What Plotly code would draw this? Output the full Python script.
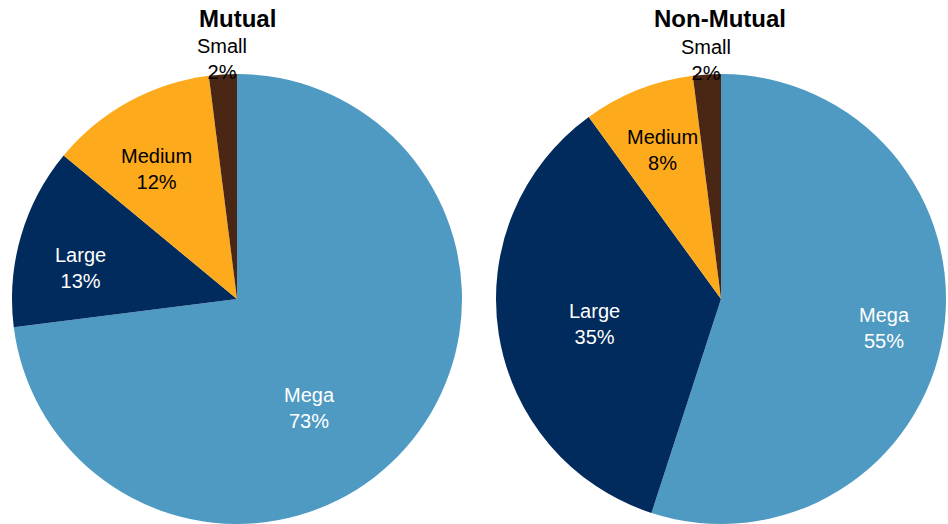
import math
import plotly.graph_objects as go

# Share of assets by size class
sizes = ["Mega", "Large", "Medium", "Small"]
mutual_pct = [73, 13, 12, 2]
non_mutual_pct = [55, 35, 8, 2]
titles = ["Mutual", "Non-Mutual"]

colors = ["#4F9AC2", "#002B5C", "#FDAA1C", "#4A2614"]
text_colors = ["white", "white", "black", "black"]
FONT = "Liberation Sans, Arial, sans-serif"

# label placement: distance from centre as a fraction of the radius,
# and an angular nudge (degrees) away from the slice bisector
label_r = [[0.585, 0.71, 0.685, 1.075], [0.74, 0.575, 0.715, 1.07]]
label_nudge = [[15, -5, -3, 0], [1, -2, 0, 0]]

W, H = 948, 524
SIDE = 450                      # pie domain side in px
centres_x = [237, 721]
cy = H - SIDE / 2               # pie centre, px from top
R = SIDE / 2 - 1

fig = go.Figure()

for k, (vals, cx) in enumerate(zip([mutual_pct, non_mutual_pct], centres_x)):
    fig.add_trace(go.Pie(
        labels=sizes,
        values=vals,
        domain=dict(x=[(cx - SIDE / 2) / W, (cx + SIDE / 2) / W],
                    y=[0, SIDE / H]),
        sort=False,
        direction="clockwise",
        rotation=0,
        marker=dict(colors=colors, line=dict(width=0)),
        textinfo="none",
        hoverinfo="label+percent",
        showlegend=False,
    ))

    # slice labels, placed along each slice's angular span
    total = sum(vals)
    start = 0.0
    for i, (lab, v) in enumerate(zip(sizes, vals)):
        span = 360.0 * v / total
        mid = math.radians(start + span / 2 + label_nudge[k][i])
        start += span
        d = label_r[k][i] * R
        px = cx + d * math.sin(mid)
        py = cy - d * math.cos(mid)
        fig.add_annotation(
            text=f"{lab}<br>{round(100 * v / total)}%",
            x=px / W, y=1 - py / H, xref="paper", yref="paper",
            showarrow=False, xanchor="center", yanchor="middle",
            align="center",
            font=dict(family=FONT, size=20, color=text_colors[i]),
        )

for title, cx in zip(titles, [237, 720]):
    fig.add_annotation(
        text=f"<b>{title}</b>", x=cx / W, y=1 - 18 / H,
        xref="paper", yref="paper", showarrow=False,
        xanchor="center", yanchor="middle",
        font=dict(family=FONT, size=24, color="black"),
    )

fig.update_layout(
    width=W, height=H,
    margin=dict(l=0, r=0, t=0, b=0),
    paper_bgcolor="white",
    plot_bgcolor="white",
)

fig.write_html("out.html")
